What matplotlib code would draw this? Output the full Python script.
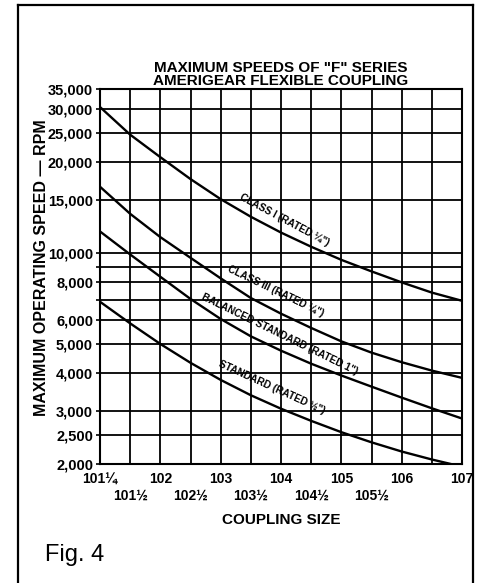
import matplotlib
matplotlib.use("Agg")
import matplotlib.pyplot as plt
from matplotlib.lines import Line2D
from matplotlib.ticker import NullLocator
import numpy as np

plt.rcParams['font.family'] = ['Liberation Sans', 'DejaVu Sans']

# coupling sizes, evenly spaced on the chart
sizes = ['101¼', '101½', '102', '102½', '103', '103½', '104',
         '104½', '105', '105½', '106', '106½', '107']
upper_labels = ['101¼', '102', '103', '104', '105', '106', '107']
lower_labels = ['101½', '102½', '103½', '104½', '105½', '']

# max operating speed (rpm) read at each size
class_1 = [30500, 24700, 20800, 17600, 15100, 13200, 11700,
           10500, 9500, 8700, 8000, 7400, 6950]
class_3 = [16600, 13500, 11300, 9650, 8250, 7100, 6300,
           5650, 5100, 4680, 4350, 4080, 3860]
balanced = [11800, 9900, 8350, 7050, 6050, 5300, 4750,
            4300, 3930, 3610, 3320, 3060, 2830]
standard = [6900, 5850, 5000, 4330, 3800, 3380, 3050,
            2780, 2550, 2360, 2200, 2070, 1960]

curve_names = ['CLASS I (RATED ¼")', 'CLASS III (RATED ¼")',
               'BALANCED STANDARD (RATED 1")', 'STANDARD (RATED ½")']

speed_ticks = [2000, 2500, 3000, 4000, 5000, 6000, 7000, 8000, 9000,
               10000, 15000, 20000, 25000, 30000, 35000]
speed_labels = ['2,000', '2,500', '3,000', '4,000', '5,000', '6,000', '',
                '8,000', '', '10,000', '15,000', '20,000', '25,000',
                '30,000', '35,000']

fig = plt.figure(figsize=(4.8, 5.83), dpi=100)
ax = fig.add_axes([100 / 480, 1 - 464 / 583, 362 / 480, 375 / 583])

x = np.arange(len(sizes))
for vals in [class_1, class_3, balanced, standard]:
    ax.plot(x, vals, color='black', lw=1.7, solid_capstyle='butt')

ax.set_yscale('log')
ax.set_ylim(2000, 35000)
ax.set_xlim(0, len(sizes) - 1)
ax.yaxis.set_minor_locator(NullLocator())
ax.set_yticks(speed_ticks)
ax.set_yticklabels(speed_labels)
# whole sizes on the upper row, half sizes on the lower row
ax.set_xticks(x[::2])
ax.set_xticklabels(upper_labels)
ax.set_xticks(x[1::2], minor=True)
ax.set_xticklabels(lower_labels, minor=True)
ax.grid(True, axis='x', which='both', color='black', lw=1.3)
ax.grid(True, axis='y', which='major', color='black', lw=1.3)
ax.tick_params(axis='y', length=3, width=1.2, pad=2, labelsize=10.5)
ax.tick_params(axis='x', which='major', length=0, pad=6, labelsize=10)
ax.tick_params(axis='x', which='minor', length=0, pad=17.5, labelsize=10)
for lab in (ax.get_xticklabels() + ax.get_xticklabels(minor=True)
            + ax.get_yticklabels()):
    lab.set_fontweight('bold')
for s in ax.spines.values():
    s.set_linewidth(1.5)

# curve labels written along the lines
label_pos = [(6.13, 12900, -28), (5.83, 7450, -25.6),
             (5.97, 5400, -26), (5.68, 3600, -24.4)]
for name, (lx, ly, rot) in zip(curve_names, label_pos):
    ax.text(lx, ly, name, rotation=rot, rotation_mode='anchor',
            ha='center', va='center', fontsize=7.3, fontweight='bold')

ax.set_title('MAXIMUM SPEEDS OF "F" SERIES\nAMERIGEAR FLEXIBLE COUPLING',
             fontsize=11, fontweight='bold', linespacing=0.85, pad=3)
ax.set_xlabel('COUPLING SIZE', fontsize=11, fontweight='bold', labelpad=8)
ax.set_ylabel('MAXIMUM OPERATING SPEED — RPM', fontsize=11.5,
              fontweight='bold')
ax.yaxis.set_label_coords(-0.14, 0.523)

fig.text(45 / 480, 1 - 555 / 583, 'Fig. 4', fontsize=17, va='center')

# page frame
fig.add_artist(Line2D([18 / 480, 18 / 480], [0, 1 - 5 / 583],
                      transform=fig.transFigure, color='black', lw=1.6))
fig.add_artist(Line2D([18 / 480, 473 / 480], [1 - 5 / 583, 1 - 5 / 583],
                      transform=fig.transFigure, color='black', lw=1.6))
fig.add_artist(Line2D([473 / 480, 473 / 480], [0, 1 - 5 / 583],
                      transform=fig.transFigure, color='black', lw=1.6))

fig.savefig('out.png', dpi=100)
